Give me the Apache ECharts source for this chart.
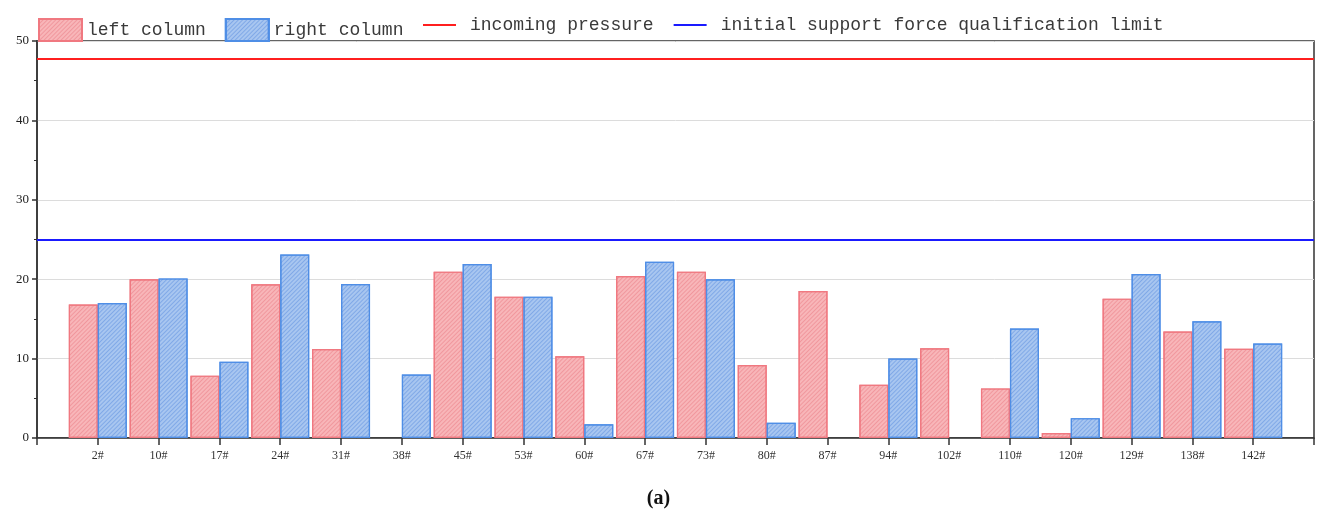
<!DOCTYPE html>
<html>
<head>
<meta charset="utf-8">
<script src="https://cdn.jsdelivr.net/npm/echarts@6/dist/echarts.min.js"></script>
<style>html,body{margin:0;padding:0;background:#fff}#c{width:1317px;height:514px}</style>
</head>
<body>
<div id="c"></div>
<script>
var categories = ['2#','10#','17#','24#','31#','38#','45#','53#','60#','67#','73#','80#','87#','94#','102#','110#','120#','129#','138#','142#'];
var leftColumn = [16.8,20.0,7.85,19.35,11.2,null,20.95,17.8,10.3,20.4,20.95,9.2,18.5,6.7,11.3,6.25,0.63,17.55,13.4,11.25];
var rightColumn = [17.0,20.1,9.6,23.1,19.4,8.0,21.9,17.8,1.72,22.2,20.0,1.93,null,10.0,null,13.8,2.5,20.65,14.7,11.9];
var incomingPressure = 47.8;
var qualificationLimit = 25;
var yTicks = {min: 0, max: 50, interval: 10};

var axisCats = [''].concat(categories, ['']);
function pad(a){ return [null].concat(a, [null]); }

var chart = echarts.init(document.getElementById('c'));
var serif = 'Liberation Serif';
var mono = 'Liberation Mono';
chart.setOption({
  animation: false,
  backgroundColor: '#fff',
  title: {text: '(a)', left: 'center', top: 484, textStyle: {fontFamily: serif, fontWeight: 'bold', fontSize: 20, color: '#111'}},
  legend: [{
    data: ['left column', 'right column'],
    left: 33, top: 13, itemWidth: 43, itemHeight: 22, itemGap: 19, icon: 'rect',
    textStyle: {fontFamily: mono, fontSize: 18, color: '#3a3a3a'}
  }, {
    data: ['incoming pressure', 'initial support force qualification limit'],
    left: 418, top: 11, itemWidth: 33, itemHeight: 22, itemGap: 20, icon: 'path://M0,10 L33,10 L33,12 L0,12 Z',
    textStyle: {fontFamily: mono, fontSize: 18, color: '#3a3a3a', padding: [0,0,0,9]}
  }],
  grid: {left: 37, right: 2, top: 41, bottom: 76, show: true, borderColor: '#333', borderWidth: 1.5},
  xAxis: {
    type: 'category', data: axisCats, boundaryGap: false,
    axisLine: {lineStyle: {color: '#333', width: 1.5}},
    axisTick: {length: 7, lineStyle: {color: '#333', width: 1.5}},
    axisLabel: {fontFamily: serif, fontSize: 12, color: '#333', margin: 12, interval: 0},
    splitLine: {show: false}
  },
  yAxis: {
    type: 'value', min: yTicks.min, max: yTicks.max, interval: yTicks.interval,
    axisLine: {show: true, lineStyle: {color: '#333', width: 1.5}},
    axisTick: {show: true, length: 5, lineStyle: {color: '#333', width: 1.5}},
    minorTick: {show: true, splitNumber: 2, length: 3, lineStyle: {color: '#333'}},
    axisLabel: {fontFamily: serif, fontSize: 13, color: '#222', margin: 8},
    splitLine: {show: true, lineStyle: {color: '#dcdcdc', width: 1}}
  },
  series: [{
    name: 'left column', type: 'bar', data: pad(leftColumn), barWidth: 29, barGap: '0%',
    itemStyle: {color: '#f8b6b9', borderColor: '#f07880', borderWidth: 1.2,
      decal: {symbol: 'rect', symbolSize: 1, color: 'rgba(225,95,105,0.35)', dashArrayX: [1, 0], dashArrayY: [1, 2], rotation: -Math.PI / 4}}
  }, {
    name: 'right column', type: 'bar', data: pad(rightColumn), barWidth: 29, barGap: '0%',
    itemStyle: {color: '#a8c6f0', borderColor: '#4f8ee6', borderWidth: 1.2,
      decal: {symbol: 'rect', symbolSize: 1, color: 'rgba(55,115,215,0.35)', dashArrayX: [1, 0], dashArrayY: [1, 2], rotation: -Math.PI / 4}}
  }, {
    name: 'incoming pressure', type: 'line', data: [], itemStyle: {color: '#ff1f1f'}, lineStyle: {color: '#ff1f1f'},
    markLine: {silent: true, symbol: 'none', label: {show: false}, lineStyle: {color: '#ff1f1f', width: 2, type: 'solid'}, data: [{yAxis: incomingPressure}]}
  }, {
    name: 'initial support force qualification limit', type: 'line', data: [], itemStyle: {color: '#1a1aff'}, lineStyle: {color: '#1a1aff'},
    markLine: {silent: true, symbol: 'none', label: {show: false}, lineStyle: {color: '#1a1aff', width: 2, type: 'solid'}, data: [{yAxis: qualificationLimit}]}
  }]
});
</script>
</body>
</html>
